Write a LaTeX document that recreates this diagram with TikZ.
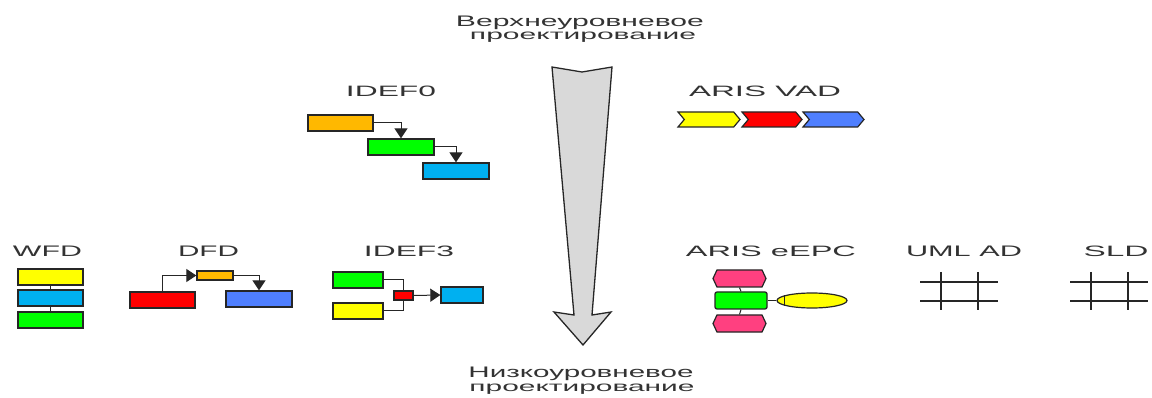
\documentclass[tikz,border=0pt]{standalone}
\usepackage{fontspec}
\setmainfont{Liberation Sans}
\usetikzlibrary{arrows.meta,shapes.symbols,shapes.geometric}
\definecolor{cOrange}{HTML}{FFB800}
\definecolor{cGreen}{HTML}{00FF00}
\definecolor{cCyan}{HTML}{00B0F0}
\definecolor{cYellow}{HTML}{FFFF00}
\definecolor{cRed}{HTML}{FF0000}
\definecolor{cBlue}{HTML}{4F7FFF}
\definecolor{cPink}{HTML}{FF4080}
\definecolor{cGray}{HTML}{D9D9D9}
\definecolor{cText}{HTML}{333333}
\newcommand{\rz}[3]{\resizebox{#1pt}{#2pt}{#3}}
\begin{document}
\begin{tikzpicture}[x=1pt,y=-1pt,
  box/.style={draw=black!85,line width=1.3pt,inner sep=0pt,rectangle},
  chev/.style={draw=black!85,line width=1.2pt,inner sep=0pt,signal,signal from=west,signal to=east,signal pointer angle=100},
  evt/.style={draw=black!85,line width=1.2pt,inner sep=0pt,signal,signal to={east and west},signal pointer angle=130,fill=cPink,minimum width=53pt,minimum height=17pt},
  conn/.style={draw=black!85,line width=1pt},
  arr/.style={conn,-{Triangle[width=13pt,length=10pt]}},
  lbl/.style={text=cText,inner sep=0pt,anchor=base},
  grid/.style={draw=black!85,line width=1.1pt},
  vgrid/.style={draw=black!85,line width=1.9pt}]
\useasboundingbox (0,0) rectangle (1152,398);

% top / bottom text
\node[lbl] (t1) at (580,26.5) {\rz{248}{10.5}{Верхнеуровневое}};
\node[lbl] (t2) at (583,40) {\rz{226}{7.5}{проектирование}};
\node[lbl] (b1) at (581,377.5) {\rz{225}{10.5}{Низкоуровневое}};
\node[lbl] (b2) at (582,391) {\rz{225}{7.5}{проектирование}};

% big arrow
\draw[draw=black!85,line width=1.3pt,fill=cGray,line join=miter]
  (552,67) -- (582,72) -- (612,67) -- (592,315) -- (611,312) -- (583,345)
  -- (554,312) -- (574,315) -- cycle;

% IDEF0
\node[lbl] (lidef0) at (391,96.5) {\rz{90}{10.5}{IDEF0}};
\node[box,fill=cOrange,minimum width=65pt,minimum height=16pt] (i0a) at (340.5,123) {};
\node[box,fill=cGreen,minimum width=66pt,minimum height=16pt] (i0b) at (401,147) {};
\node[box,fill=cCyan,minimum width=66pt,minimum height=16pt] (i0c) at (456,171) {};
\draw[arr] (i0a.east) -| (i0b.north);
\draw[arr] (i0b.east) -| (i0c.north);

% ARIS VAD
\node[lbl] (lvad) at (765,96.5) {\rz{152}{10.5}{ARIS VAD}};
\node[chev,fill=cYellow,minimum width=62pt,minimum height=15pt] (v1) at (709,119.5) {};
\node[chev,fill=cRed,minimum width=60pt,minimum height=15pt] (v2) at (772,119.5) {};
\node[chev,fill=cBlue,minimum width=61pt,minimum height=15pt] (v3) at (833.5,119.5) {};

% WFD
\node[lbl] (lwfd) at (47.5,257) {\rz{69}{10.5}{WFD}};
\node[box,fill=cYellow,minimum width=65pt,minimum height=16pt] (w1) at (50.5,277) {};
\node[box,fill=cCyan,minimum width=65pt,minimum height=16pt] (w2) at (50.5,298) {};
\node[box,fill=cGreen,minimum width=65pt,minimum height=16pt] (w3) at (50.5,320) {};
\draw[conn] (w1.south) -- (w2.north);
\draw[conn] (w2.south) -- (w3.north);

% DFD
\node[lbl] (ldfd) at (208.5,257) {\rz{61}{10.5}{DFD}};
\node[box,fill=cRed,minimum width=65pt,minimum height=16pt] (d1) at (162.5,300) {};
\node[box,fill=cOrange,minimum width=36pt,minimum height=9pt] (d2) at (215,275.5) {};
\node[box,fill=cBlue,minimum width=66pt,minimum height=16pt] (d3) at (259,299) {};
\draw[arr] (d1.north) |- (d2.west);
\draw[arr] (d2.east) -| (d3.north);

% IDEF3
\node[lbl] (lidef3) at (409,257) {\rz{90}{10.5}{IDEF3}};
\node[box,fill=cGreen,minimum width=50pt,minimum height=16pt] (e1) at (358,280) {};
\node[box,fill=cYellow,minimum width=50pt,minimum height=16pt] (e2) at (358,311) {};
\node[box,fill=cRed,minimum width=19pt,minimum height=9pt] (e3) at (403.5,295.5) {};
\node[box,fill=cCyan,minimum width=42pt,minimum height=16pt] (e4) at (462,295) {};
\draw[conn] (e1.east) -| (e3.north);
\draw[conn] (e2.east) -| (e3.south);
\draw[arr] (e3.east) -- (e4.west);

% ARIS eEPC
\node[lbl] (lepc) at (771,257) {\rz{170}{10.5}{ARIS eEPC}};
\node[evt] (p1) at (739.5,278.5) {};
\node[box,fill=cGreen,rounded corners=2pt,minimum width=52pt,minimum height=17pt] (p2) at (741,300.5) {};
\node[evt] (p3) at (739.5,323.5) {};
\node[ellipse,draw=black!85,line width=1.2pt,fill=cYellow,inner sep=0pt,minimum width=70pt,minimum height=15pt] (p4) at (812,300.5) {};
\draw[conn] (p1.south) -- (p2.north);
\draw[conn] (p2.south) -- (p3.north);
\draw[conn] (p2.east) -- (p4.west);
\draw[conn,line width=1.3pt] ([xshift=8pt,yshift=-5.5pt]p4.west) -- ([xshift=8pt,yshift=5.5pt]p4.west);

% UML AD
\node[lbl] (luml) at (964,257) {\rz{116}{10.5}{UML AD}};
\coordinate (u1) at (920,282); \coordinate (u2) at (998,282);
\coordinate (u3) at (920,301); \coordinate (u4) at (998,301);
\coordinate (u5) at (941,272); \coordinate (u6) at (941,310);
\coordinate (u7) at (978,272); \coordinate (u8) at (978,310);
\draw[grid] (u1) -- (u2); \draw[grid] (u3) -- (u4);
\draw[vgrid] (u5) -- (u6); \draw[vgrid] (u7) -- (u8);

% SLD
\node[lbl] (lsld) at (1116,257) {\rz{65}{10.5}{SLD}};
\coordinate (s1) at (1070,282); \coordinate (s2) at (1148,282);
\coordinate (s3) at (1070,301); \coordinate (s4) at (1148,301);
\coordinate (s5) at (1091,272); \coordinate (s6) at (1091,310);
\coordinate (s7) at (1128,272); \coordinate (s8) at (1128,310);
\draw[grid] (s1) -- (s2); \draw[grid] (s3) -- (s4);
\draw[vgrid] (s5) -- (s6); \draw[vgrid] (s7) -- (s8);
\end{tikzpicture}
\end{document}
